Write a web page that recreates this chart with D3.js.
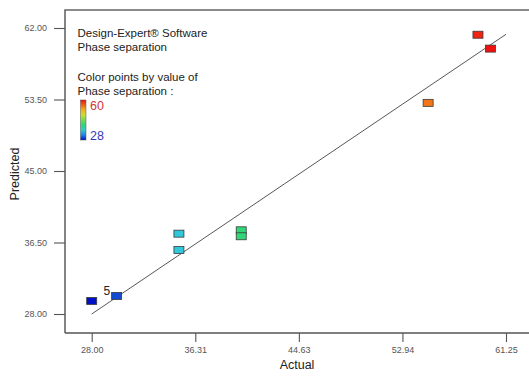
<!DOCTYPE html>
<html>
<head>
<meta charset="utf-8">
<script src="https://cdn.jsdelivr.net/npm/d3@7"></script>
<style>
  html, body { margin: 0; padding: 0; background: #fff; }
  svg { display: block; font-family: "Liberation Sans", Arial, sans-serif; }
</style>
</head>
<body>
<svg id="chart" width="529" height="381"></svg>
<script>
// Predicted vs. actual values for Phase separation
const actual    = [28.0, 30.0, 35.0, 35.0, 40.0, 40.0, 55.0, 59.0, 60.0];
const predicted = [29.55, 30.14, 37.55, 35.6, 37.95, 37.24, 53.1, 61.2, 59.55];
// multiplicity labels (runs sharing a point)
const pointLabels = ["", "5", "", "", "", "", "", "", ""];

const xTicks = [28.00, 36.3125, 44.625, 52.9375, 61.25];
const yTicks = [28.00, 36.50, 45.00, 53.50, 62.00];
const colorRange = [28, 60];
const titleLines = ["Design-Expert\u00AE Software", "Phase separation"];
const legendLines = ["Color points by value of", "Phase separation :"];

const svg = d3.select("#chart");

const x = d3.scaleLinear().domain([28, 61.25]).range([91.7, 506]);
const y = d3.scaleLinear().domain([28, 62]).range([314, 28]);

const frame = { left: 65, top: 10, bottom: 333, right: 540 };

// rainbow colour ramp, blue (low) to red (high)
const [cLo, cHi] = colorRange;
const span = cHi - cLo;
const color = d3.scaleLinear()
  .domain([cLo, cLo + 0.19 * span, cLo + 0.40 * span, cLo + 0.68 * span, cHi])
  .range(["#0010c8", "#30c4ec", "#30d868", "#f0e020", "#f01010"]);

// plot frame
svg.append("path")
  .attr("d", `M${frame.left},${frame.bottom}V${frame.top}H${frame.right}`)
  .attr("fill", "none").attr("stroke", "#666").attr("stroke-width", 1.6);
svg.append("line")
  .attr("x1", frame.left).attr("x2", frame.right)
  .attr("y1", frame.bottom).attr("y2", frame.bottom)
  .attr("stroke", "#555").attr("stroke-width", 1.3);

// axes
const fmt = d3.format(".2f");
const xAxis = svg.append("g")
  .attr("transform", `translate(0,${frame.bottom})`)
  .call(d3.axisBottom(x).tickValues(xTicks).tickFormat(fmt).tickSize(9).tickPadding(5));
const yAxis = svg.append("g")
  .attr("transform", `translate(${frame.left},0)`)
  .call(d3.axisLeft(y).tickValues(yTicks).tickFormat(fmt).tickSize(11).tickPadding(7));
[xAxis, yAxis].forEach(g => {
  g.select(".domain").remove();
  g.selectAll(".tick line").attr("stroke", "#555").attr("stroke-width", 1.1);
  g.selectAll(".tick text").attr("fill", "#555")
    .style("font-family", "'Liberation Sans', Arial, sans-serif").style("font-size", "9px");
});

// axis titles
svg.append("text").attr("x", 297).attr("y", 368.5).attr("text-anchor", "middle")
  .attr("fill", "#222").style("font-size", "12.5px").text("Actual");
svg.append("text")
  .attr("transform", `translate(18.5,174) rotate(-90)`)
  .attr("text-anchor", "middle").attr("fill", "#222").style("font-size", "12.5px").text("Predicted");

// reference line: predicted = actual
svg.append("line")
  .attr("x1", x(28)).attr("y1", y(28))
  .attr("x2", x(61.25)).attr("y2", y(61.25))
  .attr("stroke", "#444").attr("stroke-width", 0.9);

// points
const pts = actual.map((a, i) => ({ a, p: predicted[i], label: pointLabels[i] }));
const mw = 10, mh = 7;
svg.append("g").selectAll("rect").data(pts).join("rect")
  .attr("x", d => x(d.a) - mw / 2)
  .attr("y", d => y(d.p) - mh / 2)
  .attr("width", mw).attr("height", mh)
  .attr("fill", d => color(d.a))
  .attr("stroke", "#3a3a3a").attr("stroke-width", 0.8);

svg.append("g").selectAll("text").data(pts.filter(d => d.label)).join("text")
  .attr("x", d => x(d.a) - mw / 2 - 1.5)
  .attr("y", d => y(d.p) - 0.5)
  .attr("text-anchor", "end").attr("fill", "#222")
  .style("font-size", "12px").text(d => d.label);

// legend text
const legend = svg.append("g").attr("fill", "#222").style("font-size", "11.5px");
titleLines.forEach((t, i) => legend.append("text").attr("x", 77.5).attr("y", 36.5 + i * 14.5).text(t));
legendLines.forEach((t, i) => legend.append("text").attr("x", 77.5).attr("y", 80.5 + i * 14.5).text(t));

// colour bar
const defs = svg.append("defs");
const grad = defs.append("linearGradient").attr("id", "cbar")
  .attr("x1", 0).attr("y1", 1).attr("x2", 0).attr("y2", 0);
d3.range(0, 1.0001, 0.125).forEach(t => {
  grad.append("stop").attr("offset", t).attr("stop-color", color(cLo + t * span));
});
svg.append("rect").attr("x", 80.5).attr("y", 100).attr("width", 5.5).attr("height", 40)
  .attr("fill", "url(#cbar)").attr("stroke", "#555").attr("stroke-width", 0.5);
svg.append("text").attr("x", 90).attr("y", 110).attr("fill", "#d03838")
  .style("font-size", "12.5px").text(cHi);
svg.append("text").attr("x", 90).attr("y", 139.5).attr("fill", "#3838b8")
  .style("font-size", "12.5px").text(cLo);
</script>
</body>
</html>
